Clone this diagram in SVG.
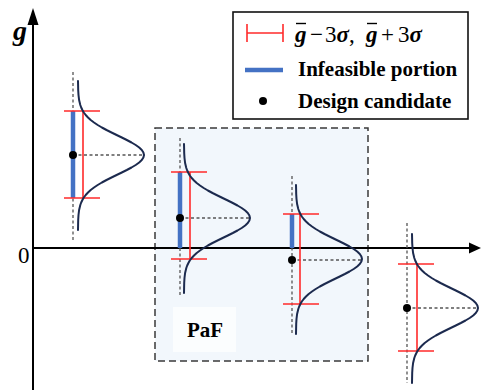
<svg xmlns="http://www.w3.org/2000/svg" xmlns:xlink="http://www.w3.org/1999/xlink" width="481" height="390" viewBox="0 0 481 390">
<style>
.ax{stroke:#000;stroke-width:2;fill:none}
.ah{fill:#000;stroke:none}
.red{stroke:#ff2a2a;stroke-width:1.6;fill:none}
.blue{stroke:#4472c4;stroke-width:4.5;fill:none}
.crv{stroke:#1c2a4e;stroke-width:2;fill:none;stroke-linejoin:round;stroke-linecap:round}
.dash{stroke:#555;stroke-width:1.3;stroke-dasharray:3 2.5;fill:none}
.dot{fill:#000}
.lbl{font-family:"Liberation Serif","Times New Roman",serif;fill:#000}
.b{font-weight:bold}
</style>
<defs>
<path id="gauss" class="crv" d="M0,-74 L0.1,-70 L0.2,-65 L0.5,-60 L1.1,-55 L2.3,-50 L3.2,-47.5 L4.4,-45 L5.8,-42.5 L7.7,-40 L10,-37.5 L12.7,-35 L16,-32.5 L19.7,-30 L23.9,-27.5 L28.5,-25 L33.5,-22.5 L38.6,-20 L43.8,-17.5 L48.8,-15 L53.5,-12.5 L57.7,-10 L61.2,-7.5 L63.8,-5 L65.4,-2.5 L66,0 L65.4,2.5 L63.8,5 L61.2,7.5 L57.7,10 L53.5,12.5 L48.8,15 L43.8,17.5 L38.6,20 L33.5,22.5 L28.5,25 L23.9,27.5 L19.7,30 L16,32.5 L12.7,35 L10,37.5 L7.7,40 L5.8,42.5 L4.4,45 L3.2,47.5 L2.3,50 L1.1,55 L0.5,60 L0.2,65 L0.1,70 L0,75"/>
</defs>

<g id="paf-region">
<rect x="155" y="128" width="213" height="233" fill="#f2f7fc" stroke="#3a3a3a" stroke-width="1.5" stroke-dasharray="7 4"/>
<rect x="173" y="307" width="63" height="45" fill="#fbfdfe"/>
<text class="lbl b" x="187" y="337" font-size="21">PaF</text>
</g>

<g id="connectors">
<g id="axes">
<line class="ax" x1="33" y1="390" x2="33" y2="22"/>
<polygon class="ah" points="33,8 27.5,25 38.5,25"/>
<line class="ax" x1="33" y1="248" x2="470" y2="248"/>
<polygon class="ah" points="481,248 469,242.5 469,253.5"/>
<text class="lbl b" x="13" y="40" font-size="28" font-style="italic">g</text>
<text class="lbl" x="18" y="263" font-size="23">0</text>
</g>
</g>

<g id="candidate-1">
<line class="dash" x1="73" y1="72" x2="73" y2="240"/>
<line class="dash" x1="73" y1="155" x2="145" y2="155"/>
<line class="blue" x1="73" y1="111" x2="73" y2="198"/>
<line class="red" x1="64" y1="111" x2="100" y2="111"/>
<line class="red" x1="64" y1="198" x2="100" y2="198"/>
<line class="red" x1="83" y1="111" x2="83" y2="198"/>
<use xlink:href="#gauss" href="#gauss" transform="translate(78,155)"/>
<circle class="dot" cx="73" cy="155" r="4"/>
</g>

<g id="candidate-2">
<line class="dash" x1="180" y1="138" x2="180" y2="297"/>
<line class="dash" x1="180" y1="218" x2="250" y2="218"/>
<line class="blue" x1="180" y1="172" x2="180" y2="248"/>
<line class="red" x1="171" y1="172" x2="207" y2="172"/>
<line class="red" x1="171" y1="259" x2="207" y2="259"/>
<line class="red" x1="190" y1="172" x2="190" y2="259"/>
<use xlink:href="#gauss" href="#gauss" transform="translate(184,218)"/>
<circle class="dot" cx="180" cy="218" r="4"/>
</g>

<g id="candidate-3">
<line class="dash" x1="292" y1="176" x2="292" y2="335"/>
<line class="dash" x1="292" y1="260" x2="362" y2="260"/>
<line class="blue" x1="292" y1="214" x2="292" y2="248"/>
<line class="red" x1="283" y1="214" x2="319" y2="214"/>
<line class="red" x1="283" y1="304" x2="319" y2="304"/>
<line class="red" x1="300" y1="214" x2="300" y2="304"/>
<use xlink:href="#gauss" href="#gauss" transform="translate(296,259)"/>
<circle class="dot" cx="292" cy="260" r="4"/>
</g>

<g id="candidate-4">
<line class="dash" x1="407" y1="223" x2="407" y2="383"/>
<line class="dash" x1="407" y1="308" x2="478" y2="308"/>
<line class="red" x1="398" y1="264" x2="434" y2="264"/>
<line class="red" x1="398" y1="351" x2="434" y2="351"/>
<line class="red" x1="417" y1="264" x2="417" y2="351"/>
<use xlink:href="#gauss" href="#gauss" transform="translate(412,308)"/>
<circle class="dot" cx="407" cy="308" r="4"/>
</g>

<g id="legend">
<rect x="233" y="12" width="235" height="107" fill="#fff" stroke="#111" stroke-width="1.6"/>
<line class="red" x1="247" y1="33" x2="283" y2="33"/>
<line class="red" x1="247" y1="24" x2="247" y2="42"/>
<line class="red" x1="283" y1="24" x2="283" y2="42"/>
<line x1="296" y1="23.5" x2="306" y2="23.5" stroke="#000" stroke-width="1.4"/>
<line x1="367" y1="23.5" x2="377" y2="23.5" stroke="#000" stroke-width="1.4"/>
<text class="lbl" y="42" font-size="23"><tspan x="295" font-weight="bold" font-style="italic">g</tspan><tspan x="310">−</tspan><tspan x="325">3</tspan><tspan font-style="italic" font-weight="bold">σ</tspan><tspan>,</tspan><tspan x="366" font-weight="bold" font-style="italic">g</tspan><tspan x="381">+</tspan><tspan x="398">3</tspan><tspan font-style="italic" font-weight="bold">σ</tspan></text>
<line class="blue" x1="245" y1="70" x2="283" y2="70"/>
<text class="lbl b" x="298" y="76" font-size="21">Infeasible portion</text>
<circle class="dot" cx="263" cy="101" r="4"/>
<text class="lbl b" x="298" y="108" font-size="21">Design candidate</text>
</g>
</svg>
